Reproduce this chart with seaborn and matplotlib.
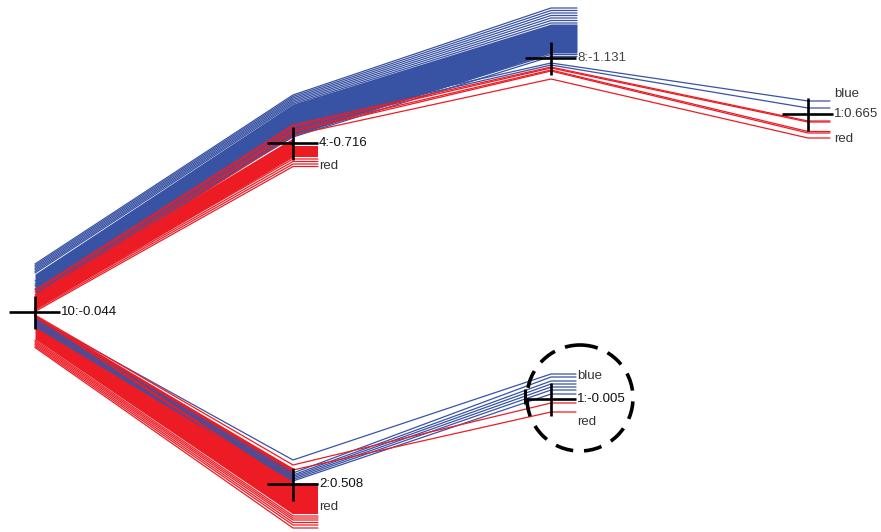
import matplotlib
matplotlib.use("Agg")
import matplotlib.pyplot as plt
from matplotlib.patches import Circle
import pandas as pd
import seaborn as sns

sns.set_theme(style="white")
plt.rcParams["font.family"] = ["Liberation Sans", "DejaVu Sans"]

BLUE = "#3953a4"
RED = "#ed1c24"

# ---- tree nodes: split feature:threshold ----
node_ids = ["root", "n4", "n8", "n1a", "n2", "n1b"]
node_labels = ["10:-0.044", "4:-0.716", "8:-1.131", "1:0.665", "2:0.508", "1:-0.005"]
label_colors = ["#111111", "#111111", "#444444", "#333333", "#111111", "#111111"]

# ---- sample lines, y value at each node along the path ----
# upper branch, blue leaf under node 8
ub8_root = [264, 265.5, 267, 268.5, 270, 271.5, 273, 286, 289]
ub8_n4 = [95, 96.5, 98, 99.5, 101, 102.5, 104, 134, 137]
ub8_n8 = [8, 10.5, 13, 15.5, 18, 20.5, 23, 54.5, 56.5]
# upper branch, blue leaf under node 1 (right)
ub1_root = [281, 284]
ub1_n4 = [121, 124]
ub1_n8 = [63, 65]
ub1_n1 = [101, 108]
# upper branch, red leaf under node 1 (right)
ur1_root = [290, 292, 295, 298, 301]
ur1_n4 = [125, 127, 130, 132, 135]
ur1_n8 = [67, 68, 70, 71, 79]
ur1_n1 = [121, 122, 131.5, 133, 138]
# upper branch, red leaf under node 4
ur4_root = [307, 308.5, 310, 311.5]
ur4_n4 = [159, 161.5, 164, 166.5]
# lower branch, red leaf under node 2
lr2_root = [315.5, 316.5, 340, 341.5, 343, 344.5, 346, 347.5]
lr2_n2 = [484, 485, 516, 518, 520, 522.5, 525, 528]
# lower branch, blue leaf under node 1 (bottom)
lb1_root = [317, 319, 320.5, 322, 323.5, 325, 326.5]
lb1_n2 = [460, 473, 475, 476.5, 478, 479.5, 481]
lb1_n1 = [374, 377, 381, 384, 387, 390, 394]
# lower branch, red leaf under node 1 (bottom)
lr1_root = [315, 316]
lr1_n2 = [465, 470]
lr1_n1 = [403, 412]

# dense cores of the bundles: top / bottom edge at each stop
core_ub_top = [274, 104, 24, 24]
core_ub_bot = [297, 136, 53, 53]
core_ur_top = [294, 138]
core_ur_bot = [309, 157]
stub_ur_top, stub_ur_bot = 146, 157
core_lr_top = [316, 468]
core_lr_bot = [339, 514]
stub_lr_top, stub_lr_bot = 484, 514

# ---- layout ----
pos = {"root": (35, 312), "n4": (293, 143), "n8": (551, 58),
       "n1a": (808, 114), "n2": (293, 484), "n1b": (551, 399)}
stub_end = {"n4": 318, "n8": 577, "n1a": 830, "n2": 318, "n1b": 576}

groups = [
    ("blue", ["root", "n4", "n8"], [ub8_root, ub8_n4, ub8_n8]),
    ("blue", ["root", "n4", "n8", "n1a"], [ub1_root, ub1_n4, ub1_n8, ub1_n1]),
    ("red", ["root", "n4", "n8", "n1a"], [ur1_root, ur1_n4, ur1_n8, ur1_n1]),
    ("red", ["root", "n4"], [ur4_root, ur4_n4]),
    ("red", ["root", "n2"], [lr2_root, lr2_n2]),
    ("blue", ["root", "n2", "n1b"], [lb1_root, lb1_n2, lb1_n1]),
    ("red", ["root", "n2", "n1b"], [lr1_root, lr1_n2, lr1_n1]),
]

rows = []
line_id = 0
for cls, path, ys in groups:
    for i in range(len(ys[0])):
        for node, col in zip(path, ys):
            rows.append({"line": line_id, "cls": cls, "x": pos[node][0], "y": col[i]})
        rows.append({"line": line_id, "cls": cls, "x": stub_end[path[-1]], "y": ys[-1][i]})
        line_id += 1
df = pd.DataFrame(rows)

fig = plt.figure(figsize=(8.81, 5.32), dpi=100)
ax = fig.add_axes([0, 0, 1, 1])
ax.set_xlim(0, 881)
ax.set_ylim(532, 0)
ax.axis("off")

# bundle cores
core_ub_x = [pos["root"][0], pos["n4"][0], pos["n8"][0], stub_end["n8"]]
ax.fill_between(core_ub_x, core_ub_top, core_ub_bot, color=BLUE, lw=0, zorder=1)
ax.fill_between([pos["root"][0], pos["n4"][0]], core_ur_top, core_ur_bot, color=RED, lw=0, zorder=1)
ax.fill_between([pos["n4"][0], stub_end["n4"]], [stub_ur_top] * 2, [stub_ur_bot] * 2,
                color=RED, lw=0, zorder=1)
ax.fill_between([pos["root"][0], pos["n2"][0]], core_lr_top, core_lr_bot, color=RED, lw=0, zorder=1)
ax.fill_between([pos["n2"][0], stub_end["n2"]], [stub_lr_top] * 2, [stub_lr_bot] * 2,
                color=RED, lw=0, zorder=1)

sns.lineplot(data=df, x="x", y="y", units="line", hue="cls",
             hue_order=["blue", "red"], palette={"blue": BLUE, "red": RED},
             estimator=None, sort=False, lw=0.9, legend=False, ax=ax, zorder=2)
ax.set_xlabel("")
ax.set_ylabel("")

# split crosses and labels
for nid, lab, tc in zip(node_ids, node_labels, label_colors):
    x, y = pos[nid]
    ax.plot([x - 26, x + 25], [y, y], color="black", lw=1.9, zorder=4, solid_capstyle="butt")
    ax.plot([x, x], [y - 16, y + 17], color="black", lw=1.9, zorder=4, solid_capstyle="butt")
    ax.text(x + 26, y, lab, fontsize=9.5, color=tc, va="center", ha="left", zorder=5)
x, y = pos["n1b"]
ax.plot([x - 26, x - 26], [y - 10, y + 5], color="black", lw=2.2, zorder=4, solid_capstyle="butt")

# leaf class labels
leaf_text = [("n4", "red", 23), ("n2", "red", 23),
             ("n1a", "blue", -20), ("n1a", "red", 25),
             ("n1b", "blue", -23), ("n1b", "red", 23)]
for nid, lab, dy in leaf_text:
    x, y = pos[nid]
    ax.text(x + 26, y + dy, lab, fontsize=9.5, color="#333333", va="center", ha="left", zorder=5)

# highlight ring
ax.add_patch(Circle((580, 398), 53, fill=False, ec="black", lw=2.6,
                    ls=(0, (5, 3)), zorder=6))

fig.savefig("out.png", dpi=100)
